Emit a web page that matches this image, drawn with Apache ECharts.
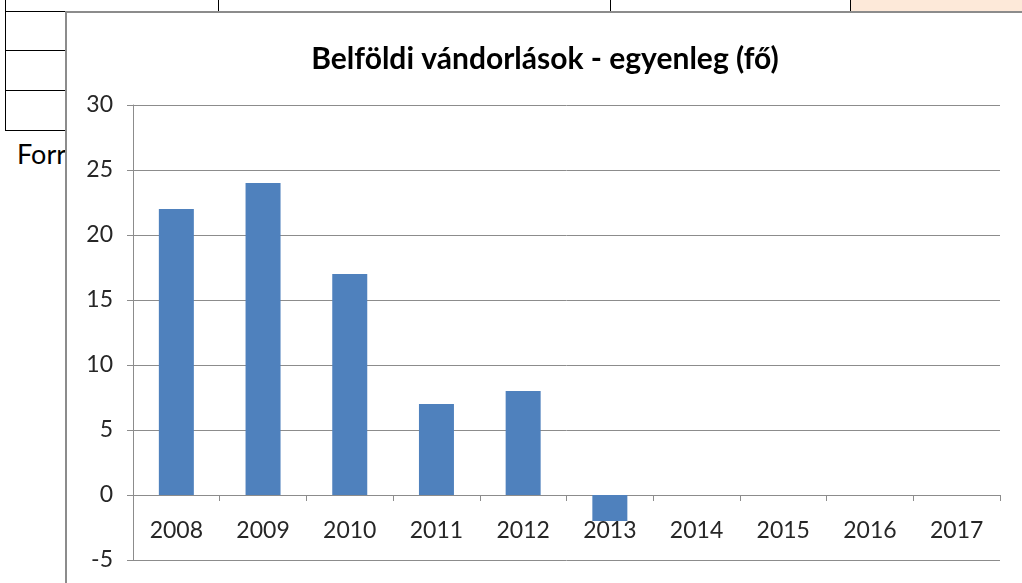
<!DOCTYPE html>
<html>
<head>
<meta charset="utf-8">
<script src="https://cdn.jsdelivr.net/npm/echarts@6/dist/echarts.min.js"></script>
<style>
  body { margin: 0; padding: 0; width: 1022px; height: 583px; overflow: hidden; background: #fff; font-family: Lato, "Open Sans", sans-serif; position: relative; }
  .cell { position: absolute; border: 1px solid #000; box-sizing: border-box; font-size: 24px; color: #000; text-align: center; }
  .sheet-text { position: absolute; font-size: 27px; color: #000; }
  #main { position: absolute; left: 65px; top: 11px; width: 957px; height: 572px; background: #fff; border-left: 2px solid #8c8c8c; border-top: 2px solid #8c8c8c; box-sizing: border-box; }
</style>
</head>
<body>
  <!-- a darab táblázat a diagram mögött -->
  <div class="cell" style="left:5px;top:-20px;width:214px;height:32px;line-height:16px;">2010</div>
  <div class="cell" style="left:218px;top:-20px;width:393px;height:32px;line-height:16px;">19</div>
  <div class="cell" style="left:610px;top:-20px;width:241px;height:32px;line-height:16px;">9</div>
  <div class="cell" style="left:850px;top:-20px;width:190px;height:32px;line-height:16px;background:#fde9d9;">17</div>
  <div class="cell" style="left:5px;top:11px;width:70px;height:40px;"></div>
  <div class="cell" style="left:5px;top:50px;width:70px;height:41px;"></div>
  <div class="cell" style="left:5px;top:90px;width:70px;height:41px;"></div>
  <div class="sheet-text" style="left:17px;top:137px;">Forrás</div>

  <div id="main"></div>

<script>
  // adatok
  let years = ['2008', '2009', '2010', '2011', '2012', '2013', '2014', '2015', '2016', '2017'];
  let balance = [22, 24, 17, 7, 8, -2, 0, 0, 0, 0];
  let yMin = -5;
  let yMax = 30;
  let yStep = 5;

  let myChart = echarts.init(document.getElementById('main'));
  let gray = '#8c8c8c';
  let option = {
    animation: false,
    textStyle: { fontFamily: 'Lato, "Open Sans", sans-serif' },
    title: {
      text: 'Belföldi vándorlások - egyenleg (fő)',
      left: 473,
      textAlign: 'center',
      top: 26,
      textStyle: { fontSize: 30, fontWeight: 'bold', color: '#000' }
    },
    grid: {
      left: 66,
      right: 22,
      top: 92,
      bottom: 23,
      containLabel: false,
      outerBoundsMode: 'none'
    },
    xAxis: {
      type: 'category',
      data: years,
      axisLine: { onZero: false, lineStyle: { color: gray } },
      axisTick: { show: true, length: 6, lineStyle: { color: gray } },
      axisLabel: { fontSize: 23, color: '#262626', margin: 24 }
    },
    yAxis: {
      type: 'value',
      min: yMin,
      max: yMax,
      interval: yStep,
      axisLine: { show: true, lineStyle: { color: gray } },
      axisTick: { show: true, length: 6, lineStyle: { color: gray } },
      axisLabel: { fontSize: 23, color: '#262626', margin: 20 },
      splitLine: { lineStyle: { color: gray, width: 1 } }
    },
    series: [
      {
        name: 'egyenleg',
        type: 'bar',
        data: balance,
        barWidth: 35,
        itemStyle: { color: '#4f81bd' }
      }
    ]
  };
  myChart.setOption(option);

  // a kategória tengelyt a 0 szintre toljuk, a feliratokkal együtt
  let yZero = myChart.convertToPixel({ yAxisIndex: 0 }, 0);
  let yBottom = myChart.convertToPixel({ yAxisIndex: 0 }, yMin);
  myChart.setOption({ xAxis: { offset: -(yBottom - yZero) } });
</script>
</body>
</html>
